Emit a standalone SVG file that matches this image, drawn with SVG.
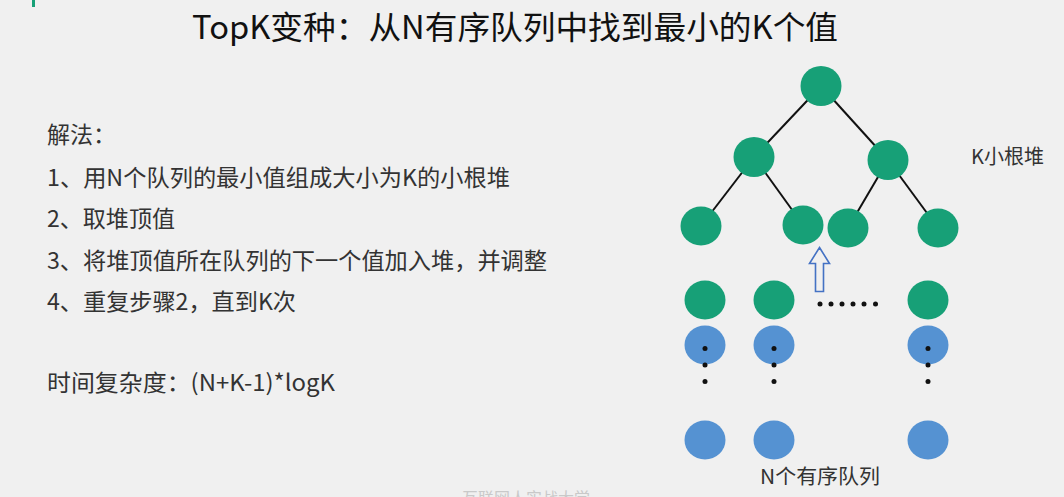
<svg xmlns="http://www.w3.org/2000/svg" width="1064" height="497" viewBox="0 0 1064 497">
  <style>
    text { font-family: "Noto Sans CJK SC", "Noto Sans", sans-serif; }
    .title { font-size: 32px; fill: #111; }
    .body { font-size: 23px; fill: #333; }
    .label { font-size: 20px; fill: #333; }
    .heap { fill: #17A077; }
    .queue { fill: #5592D2; }
    .edge { stroke: #111; stroke-width: 2; }
    .dot { fill: #111; }
  </style>
  <rect width="1064" height="497" fill="#F0F0F0"/>
  <rect x="32" y="0" width="3" height="7" fill="#17A077"/>

  <text class="title" x="192" y="39" textLength="646" lengthAdjust="spacingAndGlyphs">TopK变种：从N有序队列中找到最小的K个值</text>

  <g id="steps">
    <text class="body" x="47" y="143">解法：</text>
    <text class="body" x="47" y="186" textLength="463" lengthAdjust="spacingAndGlyphs">1、用N个队列的最小值组成大小为K的小根堆</text>
    <text class="body" x="47" y="227" textLength="128" lengthAdjust="spacingAndGlyphs">2、取堆顶值</text>
    <text class="body" x="47" y="269" textLength="500" lengthAdjust="spacingAndGlyphs">3、将堆顶值所在队列的下一个值加入堆，并调整</text>
    <text class="body" x="47" y="310" textLength="249" lengthAdjust="spacingAndGlyphs">4、重复步骤2，直到K次</text>
    <text class="body" x="47" y="391" textLength="288" lengthAdjust="spacingAndGlyphs">时间复杂度：(N+K-1)*logK</text>
  </g>

  <!-- heap edges and the insertion arrow -->
  <g id="connectors">
    <line class="edge" x1="821" y1="86" x2="754" y2="157"/>
    <line class="edge" x1="821" y1="86" x2="888" y2="160"/>
    <line class="edge" x1="754" y1="157" x2="701" y2="226"/>
    <line class="edge" x1="754" y1="157" x2="803" y2="225"/>
    <line class="edge" x1="888" y1="160" x2="848" y2="228"/>
    <line class="edge" x1="888" y1="160" x2="938" y2="228"/>
    <path d="M819.5 247.5 L829.5 263.5 L823.5 263.5 L823.5 291.5 L815.5 291.5 L815.5 263.5 L809.5 263.5 Z" fill="none" stroke="#4472C4" stroke-width="1.6" stroke-linejoin="miter"/>
  </g>

  <!-- small-root heap of size K -->
  <g id="heap-root"><ellipse class="heap" cx="821" cy="86" rx="20.5" ry="20"/></g>
  <g id="heap-l"><ellipse class="heap" cx="754" cy="157" rx="20.5" ry="20"/></g>
  <g id="heap-r"><ellipse class="heap" cx="888" cy="160" rx="20.5" ry="20"/></g>
  <g id="heap-ll"><ellipse class="heap" cx="701" cy="226" rx="20.5" ry="19.5"/></g>
  <g id="heap-lr"><ellipse class="heap" cx="803" cy="225" rx="20.5" ry="19.5"/></g>
  <g id="heap-rl"><ellipse class="heap" cx="848" cy="228" rx="20.5" ry="19.5"/></g>
  <g id="heap-rr"><ellipse class="heap" cx="938" cy="228" rx="20.5" ry="19.5"/></g>
  <text class="label" x="971" y="164">K小根堆</text>

  <!-- N sorted queues -->
  <g id="queue-1">
    <ellipse class="heap" cx="705" cy="300" rx="20.5" ry="19.5"/>
    <ellipse class="queue" cx="705" cy="345" rx="20.5" ry="19.5"/>
    <circle class="dot" cx="705" cy="348.5" r="2.5"/>
    <circle class="dot" cx="705" cy="365" r="2.5"/>
    <circle class="dot" cx="705" cy="381.5" r="2.5"/>
    <ellipse class="queue" cx="705" cy="440" rx="20.5" ry="19.5"/>
  </g>
  <g id="queue-2">
    <ellipse class="heap" cx="774" cy="300" rx="20.5" ry="19.5"/>
    <ellipse class="queue" cx="774" cy="345" rx="20.5" ry="19.5"/>
    <circle class="dot" cx="774" cy="348.5" r="2.5"/>
    <circle class="dot" cx="774" cy="365" r="2.5"/>
    <circle class="dot" cx="774" cy="381.5" r="2.5"/>
    <ellipse class="queue" cx="774" cy="440" rx="20.5" ry="19.5"/>
  </g>
  <g id="queue-ellipsis">
    <circle class="dot" cx="820" cy="304" r="2.5"/>
    <circle class="dot" cx="831" cy="304" r="2.5"/>
    <circle class="dot" cx="842" cy="304" r="2.5"/>
    <circle class="dot" cx="853" cy="304" r="2.5"/>
    <circle class="dot" cx="864" cy="304" r="2.5"/>
    <circle class="dot" cx="875.5" cy="304" r="2.5"/>
  </g>
  <g id="queue-n">
    <ellipse class="heap" cx="928" cy="300" rx="20.5" ry="19.5"/>
    <ellipse class="queue" cx="928" cy="345" rx="20.5" ry="19.5"/>
    <circle class="dot" cx="928" cy="348.5" r="2.5"/>
    <circle class="dot" cx="928" cy="365" r="2.5"/>
    <circle class="dot" cx="928" cy="381.5" r="2.5"/>
    <ellipse class="queue" cx="928" cy="440" rx="20.5" ry="19.5"/>
  </g>
  <text class="label" x="760" y="484" font-size="21" textLength="120" lengthAdjust="spacingAndGlyphs">N个有序队列</text>

  <text x="462" y="504" font-size="16" fill="#C9C9C9">互联网人实战大学</text>
</svg>
